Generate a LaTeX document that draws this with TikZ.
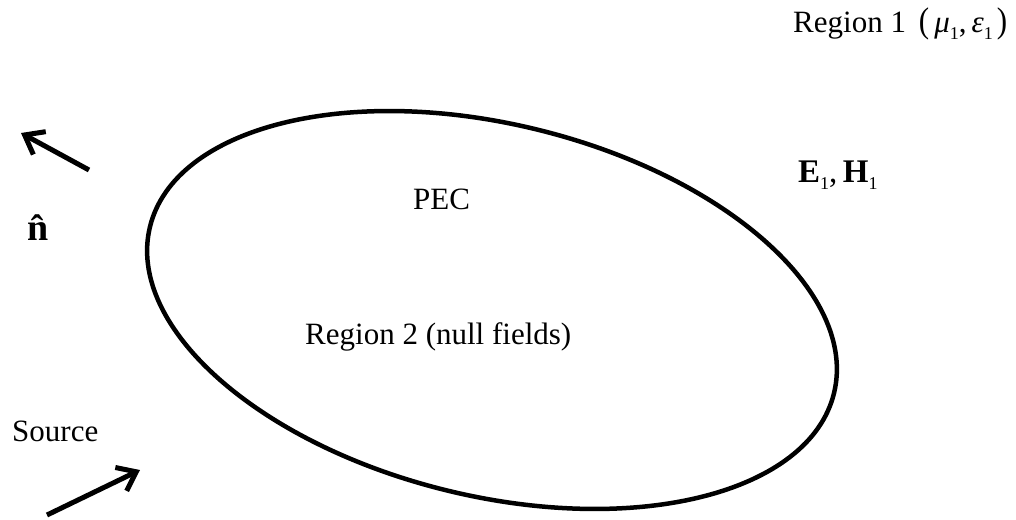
\documentclass[tikz,border=0pt]{standalone}
\usepackage{fontspec}
\setmainfont{Liberation Serif}
\usetikzlibrary{arrows.meta}
\newcommand{\mysub}[1]{\raisebox{-0.22em}{\fontsize{18}{18}\selectfont\mdseries\upshape #1}}
\tikzset{
  lbl/.style={inner sep=0pt, anchor=base west, font=\fontsize{31}{36}\selectfont},
  boundary/.style={line width=4.5pt},
  dirarrow/.style={line width=5pt, -{Straight Barb[length=17pt,width=26pt]}}
}
\begin{document}
\begin{tikzpicture}[x=1pt,y=-1pt]
\useasboundingbox (0,0) rectangle (1016,519);
% PEC body
\coordinate (c) at (492,310);
\draw[boundary, rotate around={-13.65:(c)}] (c) ellipse [x radius=352, y radius=186];
% labels
\node[lbl] (r1) at (793,33) {Region 1 \,\scalebox{1}[1.15]{(}\hspace{5pt}\textit{μ}\mysub{1},\hspace{5pt}\textit{ε}\mysub{1}\hspace{4pt}\scalebox{1}[1.15]{)}};
\node[lbl, font=\fontsize{33}{38}\selectfont] (eh) at (798,182) {\textbf{E}\mysub{1},\,\textbf{H}\mysub{1}};
\node[lbl, font=\fontsize{38}{44}\selectfont] (n) at (27,240) {\textbf{\^n}};
\node[lbl] (pec) at (413,209) {PEC};
\node[lbl] (r2) at (305,344) {Region 2 (null fields)};
\node[lbl] (src) at (12,441) {Source};
% arrows
\coordinate (na) at (89,170);
\coordinate (nb) at (21,133);
\coordinate (sa) at (47,515);
\coordinate (sb) at (140,470);
\draw[dirarrow] (na) -- (nb);
\draw[dirarrow] (sa) -- (sb);
\end{tikzpicture}
\end{document}
